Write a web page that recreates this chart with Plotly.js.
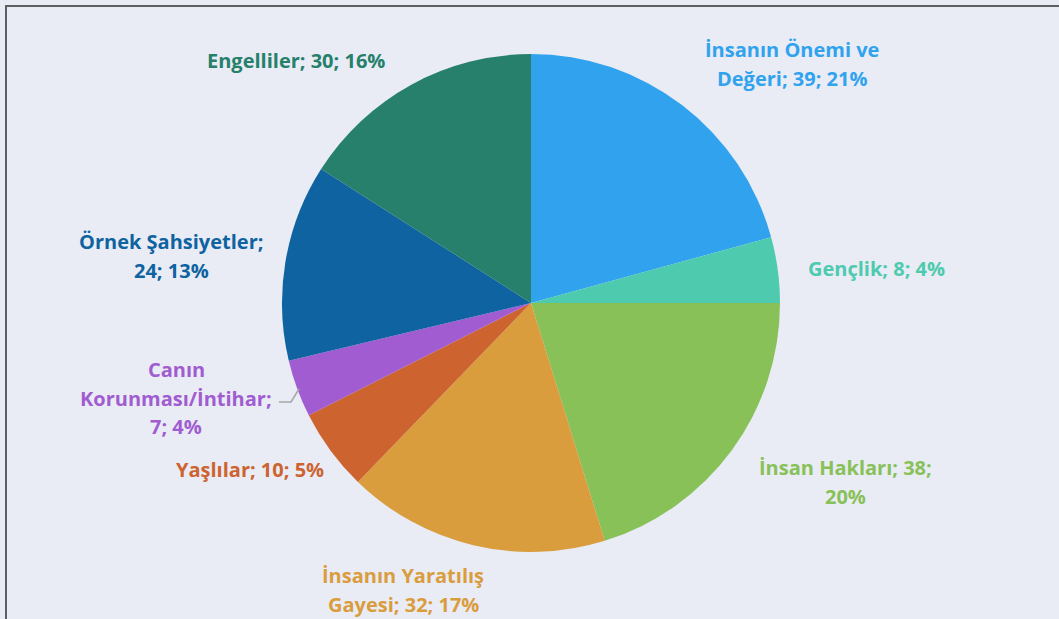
<!DOCTYPE html>
<html>
<head>
<meta charset="utf-8">
<script src="https://cdn.plot.ly/plotly-3.0.1.min.js"></script>
<style>html,body{margin:0;padding:0;background:#e9ecf5;}#chart{width:1059px;height:619px;}</style>
</head>
<body>
<div id="chart"></div>
<script>
const categories = ["İnsanın Önemi ve Değeri", "Gençlik", "İnsan Hakları", "İnsanın Yaratılış Gayesi", "Yaşlılar", "Canın Korunması/İntihar", "Örnek Şahsiyetler", "Engelliler"];
const values = [39, 8, 38, 32, 10, 7, 24, 30];
const colors = ["#31a3ee", "#4ecbaf", "#88c158", "#d99d3e", "#cd6430", "#a05cd0", "#0e63a0", "#26806b"];
// label line breaks (how the text wraps in the reference)
const labelLines = [
  ["İnsanın Önemi ve", "Değeri; {v}; {p}"],
  ["Gençlik; {v}; {p}"],
  ["İnsan Hakları; {v};", "{p}"],
  ["İnsanın Yaratılış", "Gayesi; {v}; {p}"],
  ["Yaşlılar; {v}; {p}"],
  ["Canın", "Korunması/İntihar;", "{v}; {p}"],
  ["Örnek Şahsiyetler;", "{v}; {p}"],
  ["Engelliler; {v}; {p}"]
];
// label block centers in pixels
const labelPos = [[792, 64], [876, 268], [845, 482], [403, 590], [250, 469], [176, 398], [171, 256], [296, 60]];
const lineGap = 29;

const W = 1059, H = 619;
const total = values.reduce((a, b) => a + b, 0);
const cx = 531, cy = 303, r = 249;

const annotations = [];
categories.forEach((c, i) => {
  const pct = Math.round(values[i] / total * 100) + "%";
  const lines = labelLines[i].map(l => l.replace("{v}", values[i]).replace("{p}", pct));
  const n = lines.length;
  lines.forEach((t, k) => {
    const py = labelPos[i][1] + (k - (n - 1) / 2) * lineGap;
    annotations.push({
      xref: "paper", yref: "paper",
      x: labelPos[i][0] / W, y: 1 - py / H,
      xanchor: "center", yanchor: "middle",
      text: "<b>" + t + "</b>",
      showarrow: false, align: "center",
      font: {family: "'Open Sans', Lato, sans-serif", size: 20, color: colors[i]}
    });
  });
});

const data = [{
  type: "pie",
  labels: categories,
  values: values,
  sort: false,
  direction: "clockwise",
  rotation: 0,
  marker: {colors: colors, line: {width: 0}},
  textinfo: "none",
  hoverinfo: "label+value+percent",
  domain: {x: [(cx - r) / W, (cx + r) / W], y: [(H - cy - r) / H, (H - cy + r) / H]},
  showlegend: false
}];

const layout = {
  width: W, height: H,
  margin: {l: 0, r: 0, t: 0, b: 0},
  paper_bgcolor: "#e9ecf5",
  plot_bgcolor: "#e9ecf5",
  showlegend: false,
  annotations: annotations,
  shapes: [
    {type: "line", xref: "paper", yref: "paper", x0: 5 / W, x1: 1, y0: 1 - 6 / H, y1: 1 - 6 / H, line: {color: "#5f5f63", width: 2}},
    {type: "line", xref: "paper", yref: "paper", x0: 6 / W, x1: 6 / W, y0: 1 - 5 / H, y1: 0, line: {color: "#5f5f63", width: 2}},
    {type: "path", xref: "paper", yref: "paper",
     path: "M " + (279 / W) + "," + (1 - 402 / H) + " L " + (291 / W) + "," + (1 - 402 / H) + " L " + (299 / W) + "," + (1 - 389 / H),
     line: {color: "#a6a6a6", width: 1.5}}
  ]
};

Plotly.newPlot("chart", data, layout, {displayModeBar: false, staticPlot: true});
</script>
</body>
</html>
